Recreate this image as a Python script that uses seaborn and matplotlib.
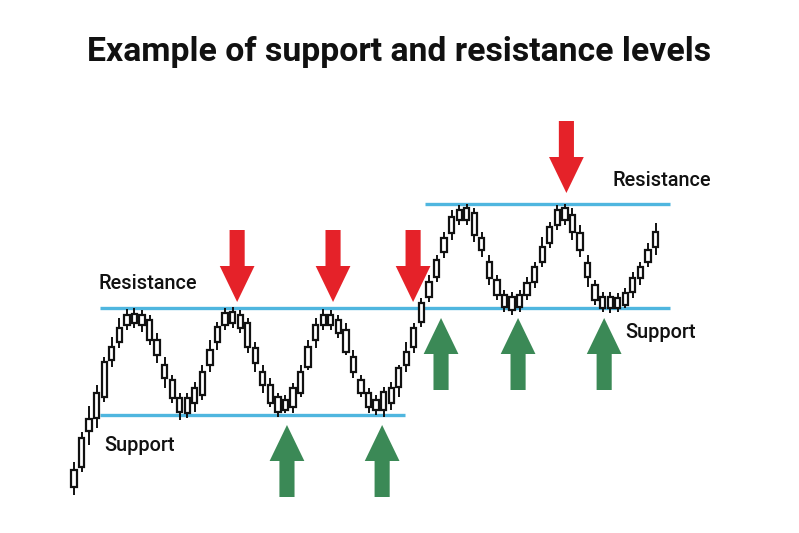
import numpy as np
import matplotlib
matplotlib.use("Agg")
import matplotlib.pyplot as plt
import seaborn as sns

# candle data (price units), one entry per candle, left to right
body_top = [6.3, 9.5, 11.4, 14.0, 17.1, 18.6, 20.5, 21.8, 21.9, 21.8,
            21.3, 19.3, 16.8, 15.3, 13.5, 13.5, 14.5, 16.1, 18.3, 20.6,
            22.0, 22.1, 21.8, 21.0, 18.5, 16.1, 14.8, 13.6, 13.3, 14.5,
            16.1, 18.6, 20.8, 21.8, 21.8, 21.3, 20.3, 17.6, 15.3, 14.0,
            13.3, 14.1, 14.5, 16.5, 18.1, 20.5, 23.0, 25.1, 27.3, 29.5,
            31.6, 32.3, 32.5, 32.0, 29.5, 27.1, 25.3, 23.8, 23.6, 23.8,
            25.0, 26.6, 28.6, 30.6, 32.3, 32.5, 31.8, 30.0, 27.0, 24.8,
            23.6, 23.6, 23.5, 24.0, 25.5, 26.6, 28.3, 30.1]
body_bottom = [4.6, 6.6, 10.2, 11.5, 13.6, 17.3, 19.1, 20.8, 21.0, 20.8,
               19.3, 17.8, 15.5, 13.5, 12.1, 12.0, 13.0, 13.8, 16.8, 19.1,
               20.8, 21.0, 20.5, 18.6, 17.0, 14.8, 13.0, 12.1, 12.3, 12.6,
               14.0, 16.6, 19.3, 20.8, 20.8, 20.0, 18.1, 16.1, 14.0, 12.6,
               12.3, 12.3, 13.0, 14.6, 16.8, 18.6, 21.1, 23.6, 25.6, 28.1,
               30.0, 31.3, 31.3, 29.8, 28.3, 25.5, 23.8, 22.6, 22.3, 22.6,
               23.8, 25.1, 27.1, 29.0, 30.8, 31.3, 30.1, 28.3, 25.6, 23.3,
               22.5, 22.5, 22.5, 22.8, 24.1, 25.5, 27.1, 28.6]
high = [7.1, 10.1, 12.7, 14.8, 17.6, 19.6, 21.5, 22.4, 22.5, 22.3,
        21.8, 20.0, 17.6, 15.8, 14.0, 14.0, 15.1, 16.8, 19.3, 21.1,
        22.5, 22.6, 22.3, 21.5, 19.1, 16.8, 15.5, 14.0, 13.8, 15.0,
        16.8, 19.3, 21.5, 22.4, 22.3, 21.8, 21.0, 18.3, 15.8, 14.5,
        13.8, 14.6, 15.1, 16.8, 19.1, 21.0, 23.5, 25.8, 27.8, 30.1,
        32.3, 32.8, 32.9, 32.5, 30.1, 27.8, 25.8, 24.3, 24.1, 24.3,
        25.6, 27.1, 29.6, 31.1, 32.8, 32.9, 32.5, 30.8, 27.8, 25.3,
        24.1, 24.1, 24.0, 24.5, 26.1, 27.1, 29.0, 31.0]
low = [3.8, 6.1, 8.8, 10.5, 13.1, 16.6, 18.5, 20.3, 20.5, 20.1,
       18.8, 17.0, 14.5, 13.0, 11.3, 11.5, 12.1, 13.3, 16.1, 18.3,
       20.3, 20.5, 20.0, 18.0, 16.1, 14.0, 12.6, 11.6, 12.0, 12.0,
       13.6, 16.3, 18.5, 20.3, 20.3, 19.5, 17.8, 15.5, 13.6, 12.0,
       11.8, 11.6, 12.3, 13.6, 16.1, 18.0, 20.6, 23.1, 25.1, 27.5,
       29.3, 30.8, 30.8, 29.1, 27.6, 24.8, 23.3, 22.1, 21.8, 22.1,
       23.3, 24.5, 26.6, 28.5, 30.3, 30.8, 29.3, 27.6, 24.6, 22.8,
       22.1, 22.0, 22.1, 22.5, 23.5, 24.8, 26.6, 27.8]

# horizontal levels: (price, start index, end index)
level_prices = [22.5, 11.8, 32.9]
level_start = [3.4, 3.4, 46.5]
level_end = [78.9, 43.8, 78.9]

# arrows: candle index they point at, tip price
sell_idx = [21.6, 34.3, 44.9, 65.2]
sell_tip = [23.1, 23.1, 23.1, 34.0]
buy_idx = [28.2, 40.8, 48.6, 58.8, 70.2]
buy_tip = [10.8, 10.8, 21.5, 21.5, 21.5]

labels = ["Resistance", "Support", "Resistance", "Support"]

sns.set_theme(style="white")
plt.rcParams['font.family'] = ['Roboto', 'DejaVu Sans']

fig = plt.figure(figsize=(7.99, 5.33), dpi=100)
fig.patch.set_facecolor("white")
ax = fig.add_axes([0, 0, 1, 1])
ax.set_xlim(-9.8, 96.0)
ax.set_ylim(0, 53.3)
ax.axis("off")

x = np.arange(len(body_top))
bt = np.array(body_top)
bb = np.array(body_bottom)

# levels
for p, s, e in zip(level_prices, level_start, level_end):
    ax.hlines(p, s, e, color="#4fb6df", lw=2.4, zorder=1)

# candles
ax.vlines(x, low, high, color="#111111", lw=1.4, zorder=2)
ax.bar(x, bt - bb, bottom=bb, width=0.7, facecolor="white",
       edgecolor="#111111", linewidth=1.6, zorder=3)

# arrows
arrow_len = 7.2
for xi, tip in zip(sell_idx, sell_tip):
    ax.arrow(xi, tip + arrow_len, 0, -arrow_len, width=2.0, head_width=4.6,
             head_length=3.6, length_includes_head=True, color="#e52229",
             lw=0, zorder=4)
for xi, tip in zip(buy_idx, buy_tip):
    ax.arrow(xi, tip - arrow_len, 0, arrow_len, width=2.0, head_width=4.6,
             head_length=3.6, length_includes_head=True, color="#3b8956",
             lw=0, zorder=4)

fig.text(0.5, 0.902, "Example of support and resistance levels",
         ha="center", va="center", fontsize=24.3, fontweight="bold",
         color="#111111")

label_pos = [(0.123, 0.469), (0.131, 0.165), (0.766, 0.662), (0.783, 0.377)]
for txt, (lx, ly) in zip(labels, label_pos):
    fig.text(lx, ly, txt, ha="left", va="center", fontsize=14.3,
             fontweight="medium", color="#111111")

fig.savefig("out.png", dpi=100, facecolor="white")
